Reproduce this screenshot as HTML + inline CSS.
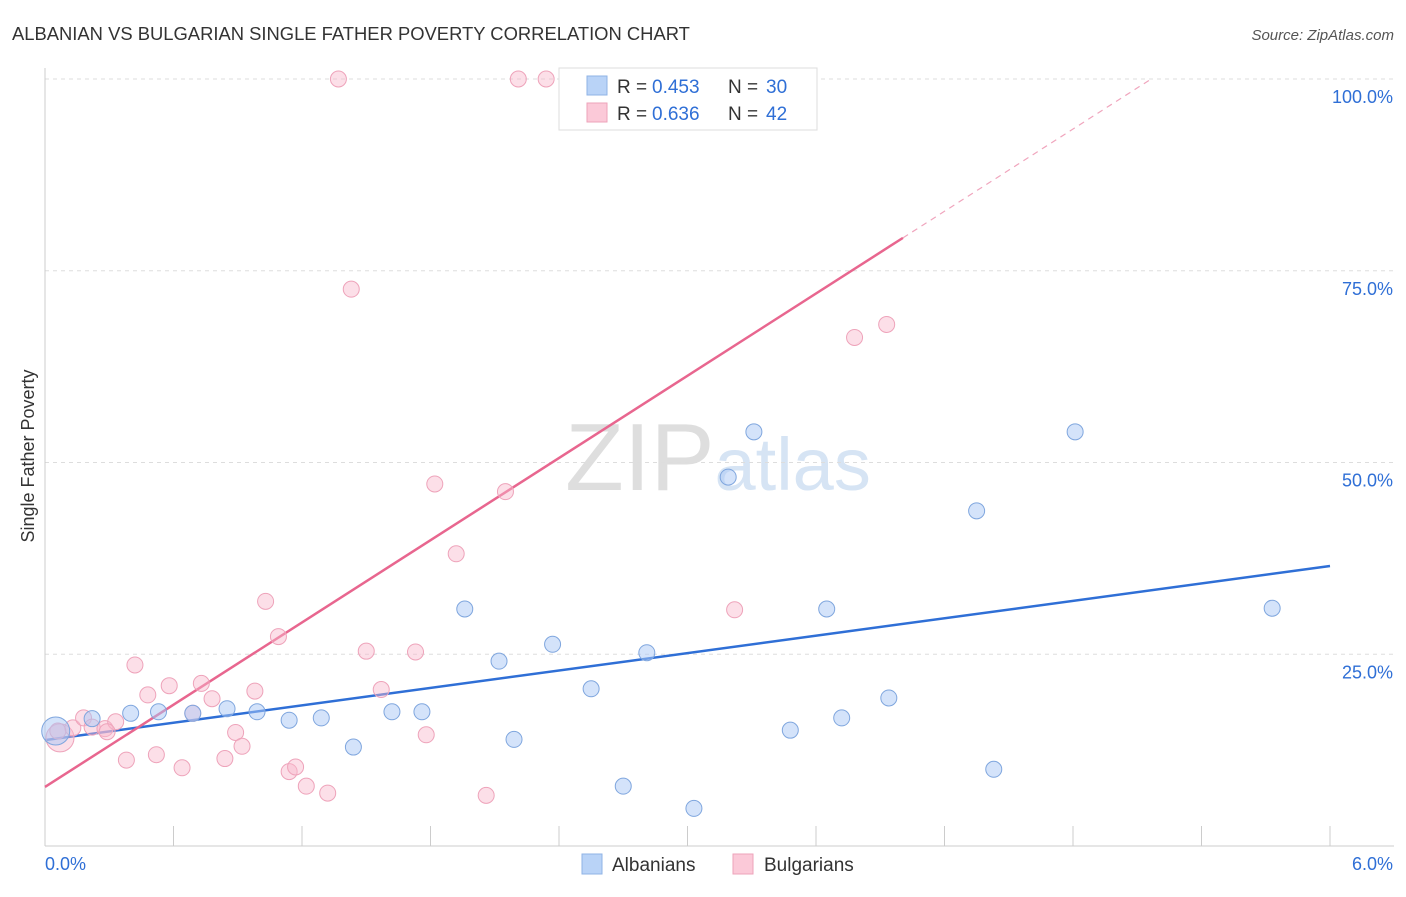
<!DOCTYPE html>
<html><head><meta charset="utf-8">
<style>
body{margin:0;background:#fff;font-family:"Liberation Sans",sans-serif;}
svg text{font-family:"Liberation Sans",sans-serif;}
</style></head>
<body>
<svg id="chart" width="1406" height="892" xmlns="http://www.w3.org/2000/svg">
<text x="12" y="40" font-size="18.4" fill="#333">ALBANIAN VS BULGARIAN SINGLE FATHER POVERTY CORRELATION CHART</text>
<text x="1394" y="40" font-size="15" fill="#555" font-style="italic" text-anchor="end">Source: ZipAtlas.com</text>
<text x="718" y="490" font-size="96" fill="#e4e4e4" text-anchor="middle" font-family="Liberation Serif"><tspan fill="#dedede">ZIP</tspan><tspan fill="#d6e4f4" font-family="Liberation Sans" font-size="74">atlas</tspan></text>
<text transform="translate(34,456) rotate(-90)" font-size="18" fill="#333" text-anchor="middle">Single Father Poverty</text>
<g id="grid"></g>
<g id="axes"></g>
<g id="lines"></g>
<g id="points"></g>
<g>
<rect x="559" y="68" width="258" height="62" fill="#fff" stroke="#ddd"/>
<rect x="587" y="76" width="20" height="19" fill="#b9d3f7" stroke="#8fb3e6"/>
<text y="93" font-size="19" fill="#333"><tspan x="617">R =</tspan><tspan x="652" fill="#2f6fd6">0.453</tspan><tspan x="728">N =</tspan><tspan x="766" fill="#2f6fd6">30</tspan></text>
<rect x="587" y="103" width="20" height="19" fill="#fbc9d8" stroke="#eea3ba"/>
<text y="120" font-size="19" fill="#333"><tspan x="617">R =</tspan><tspan x="652" fill="#2f6fd6">0.636</tspan><tspan x="728">N =</tspan><tspan x="766" fill="#2f6fd6">42</tspan></text>
</g>
<g>
<rect x="582" y="854" width="20" height="20" fill="#b9d3f7" stroke="#8fb3e6"/>
<text x="612" y="871" font-size="19" fill="#333">Albanians</text>
<rect x="733" y="854" width="20" height="20" fill="#fbc9d8" stroke="#eea3ba"/>
<text x="764" y="871" font-size="19" fill="#333">Bulgarians</text>
</g>
</svg>
<script>
const yTicks=[25,50,75,100];
const yTickLabels=["25.0%","50.0%","75.0%","100.0%"];
const xTicks=[0,0.6,1.2,1.8,2.4,3.0,3.6,4.2,4.8,5.4,6.0];
const albX=[0.05,0.22,0.40,0.53,0.69,0.85,0.99,1.14,1.29,1.44,1.62,1.76,1.96,2.12,2.19,2.37,2.55,2.70,2.81,3.03,3.19,3.31,3.48,3.65,3.72,3.94,4.35,4.43,4.81,5.73];
const albY=[15.0,16.6,17.3,17.5,17.3,17.9,17.5,16.4,16.7,12.9,17.5,17.5,30.9,24.1,13.9,26.3,20.5,7.8,25.2,4.9,48.1,54.0,15.1,30.9,16.7,19.3,43.7,10.0,54.0,31.0];
const bulX=[0.07,0.13,0.18,0.22,0.28,0.33,0.38,0.42,0.48,0.52,0.58,0.64,0.69,0.73,0.78,0.84,0.89,0.92,0.98,1.03,1.09,1.14,1.17,1.22,1.32,1.37,1.43,1.50,1.57,1.73,1.78,1.82,1.92,2.06,2.15,2.21,2.34,3.22,3.78,3.93,0.06,0.29];
const bulY=[14.1,15.4,16.7,15.5,15.3,16.2,11.2,23.6,19.7,11.9,20.9,10.2,17.3,21.2,19.2,11.4,14.8,13.0,20.2,31.9,27.3,9.7,10.3,7.8,6.9,100,72.6,25.4,20.4,25.3,14.5,47.2,38.1,6.6,46.2,100,100,30.8,66.3,68.0,15.0,14.9];
const albTrend=[13.8,36.5];
const bulTrend=[7.7,17.87];
const X0=45,X1=1330,Y0=846,Yppu=7.67;
const sx=v=>X0+(v/6)*(X1-X0), sy=v=>Y0-v*Yppu;
const NS="http://www.w3.org/2000/svg";
function mk(tag,attrs,parent){const e=document.createElementNS(NS,tag);for(const k in attrs)e.setAttribute(k,attrs[k]);document.getElementById(parent).appendChild(e);return e;}
yTicks.forEach((t,i)=>{
 const l=mk('line',{x1:X0,x2:1394,y1:sy(t),y2:sy(t),stroke:'#ddd','stroke-dasharray':'4,4'},'grid');
 
 
 const tx=mk('text',{x:1393,y:sy(t)+24,'font-size':18,fill:'#2f6fd6','text-anchor':'end'},'axes');
 tx.textContent=yTickLabels[i];
 
 
});
const ax=mk('line',{x1:X0,x2:X0,y1:68,y2:Y0,stroke:'#ccc'},'axes');


const bx=mk('line',{x1:X0,x2:1394,y1:Y0,y2:Y0,stroke:'#ccc'},'axes');


xTicks.forEach(t=>{
 const l=mk('line',{x1:sx(t),x2:sx(t),y1:826,y2:Y0,stroke:'#ccc'},'axes');
 
 
});
const xl0=mk('text',{x:45,y:870,'font-size':18,fill:'#2f6fd6'},'axes');xl0.textContent='0.0%';


const xl1=mk('text',{x:1393,y:870,'font-size':18,fill:'#2f6fd6','text-anchor':'end'},'axes');xl1.textContent='6.0%';


const bl=mk('line',{x1:sx(0),y1:sy(albTrend[0]),x2:sx(6),y2:sy(albTrend[1]),stroke:'#2f6fd6','stroke-width':2.5},'lines');


const xs=4.006, xe=(100-bulTrend[0])/bulTrend[1];
const pl=mk('line',{x1:sx(0),y1:sy(bulTrend[0]),x2:sx(xs),y2:sy(bulTrend[0]+bulTrend[1]*xs),stroke:'#e8668f','stroke-width':2.5},'lines');


const pd=mk('line',{x1:sx(xs),y1:sy(bulTrend[0]+bulTrend[1]*xs),x2:sx(xe),y2:sy(100),stroke:'#f0a5bd','stroke-width':1.2,'stroke-dasharray':'6,5'},'lines');


bulX.forEach((x,i)=>{
 const c=mk('circle',{cx:sx(x),cy:sy(bulY[i]),r:i==0?14:8,fill:'rgba(248,185,205,0.45)',stroke:'#eea3ba','stroke-width':1},'points');
 
 
});
albX.forEach((x,i)=>{
 const c=mk('circle',{cx:sx(x),cy:sy(albY[i]),r:i==0?14:8,fill:'rgba(170,200,245,0.5)',stroke:'#7fa6de','stroke-width':1},'points');
 
 
});
</script>
</body></html>
